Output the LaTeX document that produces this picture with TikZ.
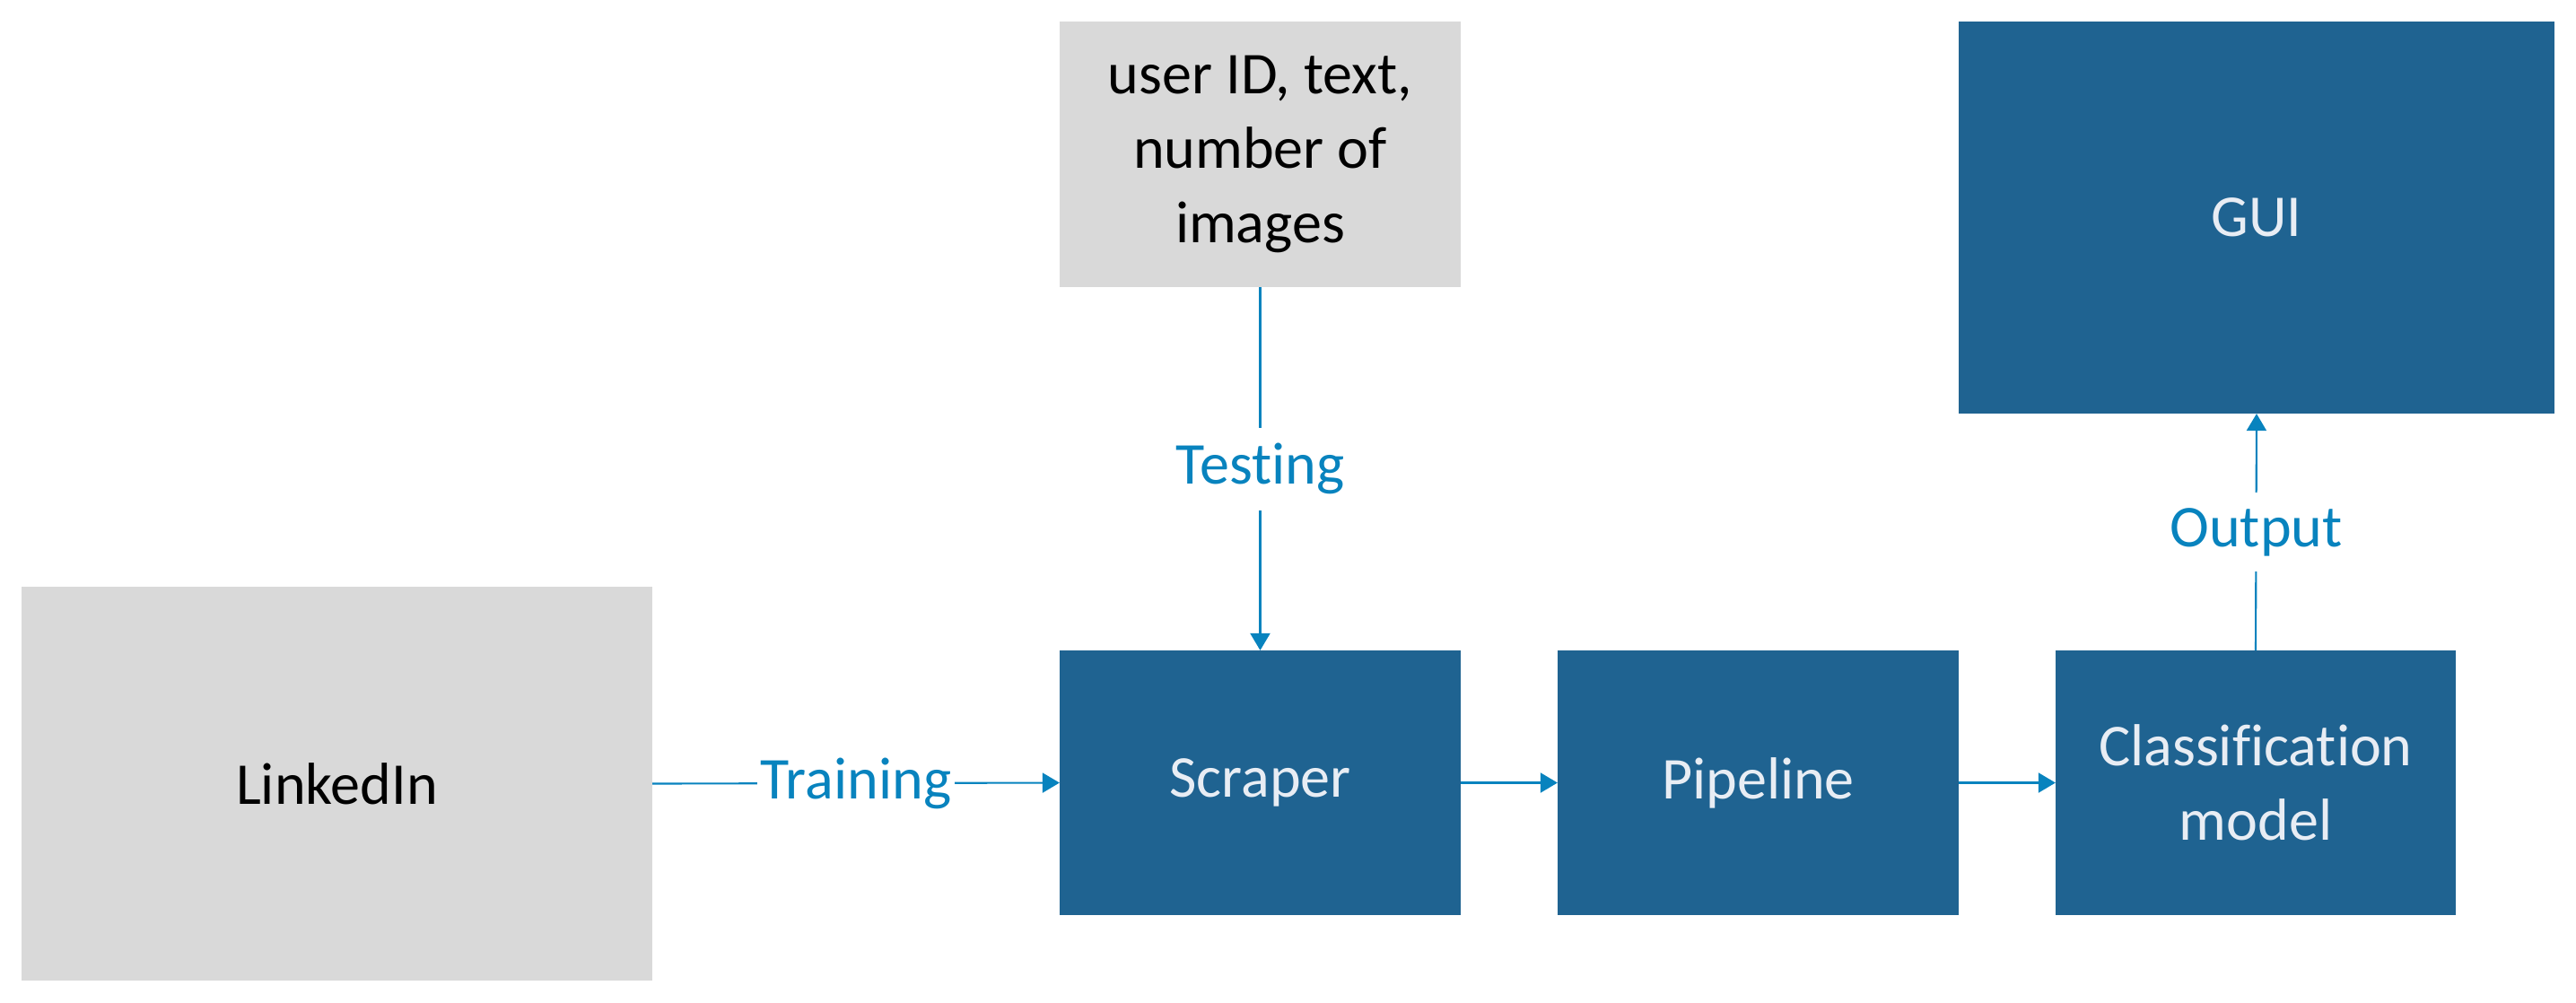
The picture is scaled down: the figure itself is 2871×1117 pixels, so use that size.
\documentclass[tikz,border=0pt]{standalone}
\usepackage{fontspec}
\setmainfont[Ligatures={NoCommon}]{Carlito}
\usetikzlibrary{arrows.meta}
\definecolor{boxblue}{RGB}{31,99,145}
\definecolor{boxgray}{RGB}{217,217,217}
\definecolor{linkblue}{RGB}{8,131,190}
\definecolor{paletext}{RGB}{232,237,244}
\begin{document}
\begin{tikzpicture}[x=0.01cm,y=-0.01cm,
  every node/.style={font=\fontsize{18.8pt}{23.5pt}\selectfont, align=center, inner sep=0pt, outer sep=0pt},
  graybox/.style={fill=boxgray, text=black},
  bluebox/.style={fill=boxblue, text=paletext},
  conn/.style={draw=linkblue, line width=0.6pt, -{Triangle[length=0.19cm,width=0.22cm]}},
  lbl/.style={fill=white, text=linkblue, inner xsep=1pt, inner ysep=4pt}
]
\useasboundingbox (0,0) rectangle (2871,1117);
\node[graybox, minimum width=7.03cm, minimum height=4.39cm] (linkedin) at (375.5,873.5) {LinkedIn};
\node[graybox, minimum width=4.47cm, minimum height=2.96cm] (user) at (1404.5,172) {user ID, text,\\number of\\images};
\node[bluebox, minimum width=6.64cm, minimum height=4.37cm] (gui) at (2515,242.5) {GUI};
\node[bluebox, minimum width=4.47cm, minimum height=2.95cm] (scraper) at (1404.5,872.5) {Scraper};
\node[bluebox, minimum width=4.47cm, minimum height=2.95cm] (pipeline) at (1959.5,872.5) {Pipeline};
\node[bluebox, minimum width=4.46cm, minimum height=2.95cm] (classif) at (2514,872.5) {Classification\\model};
\draw[conn] (linkedin.east) -- node[lbl] {Training} (scraper.west);
\draw[conn] (user.south) -- node[lbl, inner ysep=5pt] {Testing} (scraper.north);
\draw[conn] (scraper.east) -- (pipeline.west);
\draw[conn] (pipeline.east) -- (classif.west);
\draw[conn] (classif.north) -- node[lbl, inner ysep=5pt] {Output} (gui.south);
\end{tikzpicture}
\end{document}
